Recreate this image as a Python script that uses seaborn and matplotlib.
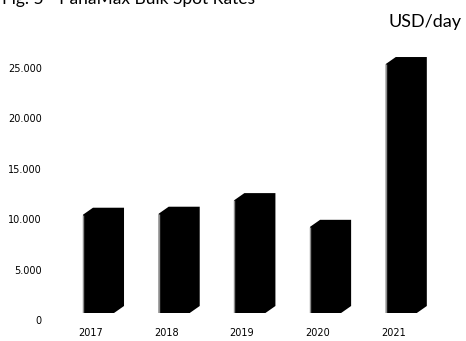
import matplotlib
matplotlib.use("Agg")
import matplotlib.pyplot as plt
from matplotlib.patches import Polygon
from matplotlib.transforms import ScaledTranslation
import seaborn as sns
import pandas as pd

# Panamax bulk spot rates, yearly averages (USD/day)
years = ["2017", "2018", "2019", "2020", "2021"]
rates = [9750, 9850, 11200, 8550, 24700]
ytick_values = [0, 5000, 10000, 15000, 20000, 25000]
ytick_labels = ["0", "5.000", "10.000", "15.000", "20.000", "25.000"]

df = pd.DataFrame({"year": years, "rate": rates})

sns.set_theme(style="white")
plt.rcParams["font.family"] = ["DejaVu Sans"]

W, H, DPI = 466, 341, 100
fig = plt.figure(figsize=(W / DPI, H / DPI), dpi=DPI)

# axes placed in pixel terms
ax_left, ax_right = 50, 460
ax_top, ax_bottom = 45, 313
ax = fig.add_axes([ax_left / W, (H - ax_bottom) / H,
                   (ax_right - ax_left) / W, (ax_bottom - ax_top) / H])

sns.barplot(data=df, x="year", y="rate", color="black", width=0.41,
            saturation=1, ax=ax, edgecolor="black", linewidth=0)

# scale: pixels per category step and per USD
px_cat = 75.7
px_usd = 50.4 / 5000
first_center = 98.5
ax.set_xlim((ax_left - first_center) / px_cat, (ax_right - first_center) / px_cat)
ax.set_ylim(0, (ax_bottom - ax_top) / px_usd)

# 3D depth of the columns (top face and right side)
dx = 10 / px_cat
dy = 7 / px_usd
for p in list(ax.patches):
    x0, w, h = p.get_x(), p.get_width(), p.get_height()
    x1 = x0 + w
    poly = Polygon([(x0, 0), (x0, h), (x0 + dx, h + dy), (x1 + dx, h + dy),
                    (x1 + dx, dy), (x1, 0)], closed=True,
                   facecolor="black", edgecolor="none", zorder=p.get_zorder())
    ax.add_patch(poly)
    ax.plot([x0, x0], [0, h], color="#8c8c8c", lw=1.0, zorder=p.get_zorder() + 1,
            solid_capstyle="butt")

for s in ax.spines.values():
    s.set_visible(False)
ax.grid(False)
ax.set_xlabel("")
ax.set_ylabel("")
ax.set_yticks(ytick_values)
ax.set_yticklabels(ytick_labels)
ax.tick_params(axis="both", length=0, labelsize=7, colors="black")
ax.tick_params(axis="y", pad=5.8)
ax.tick_params(axis="x", pad=11)

for lbl in ax.get_xticklabels():
    lbl.set_transform(lbl.get_transform() + ScaledTranslation(-8 / DPI, 0, fig.dpi_scale_trans))
for lbl in ax.get_yticklabels():
    lbl.set_transform(lbl.get_transform() + ScaledTranslation(0, -7 / DPI, fig.dpi_scale_trans))

fig.text(2 / W, 1 - 4 / H, "Fig. 5 - PanaMax Bulk Spot Rates", family="Lato",
         fontsize=12.5, va="baseline", ha="left", color="black")
fig.text(462 / W, 1 - 27 / H, "USD/day", family="Lato", fontsize=13,
         va="baseline", ha="right", color="black")

fig.savefig("out.png", dpi=DPI, facecolor="white")
